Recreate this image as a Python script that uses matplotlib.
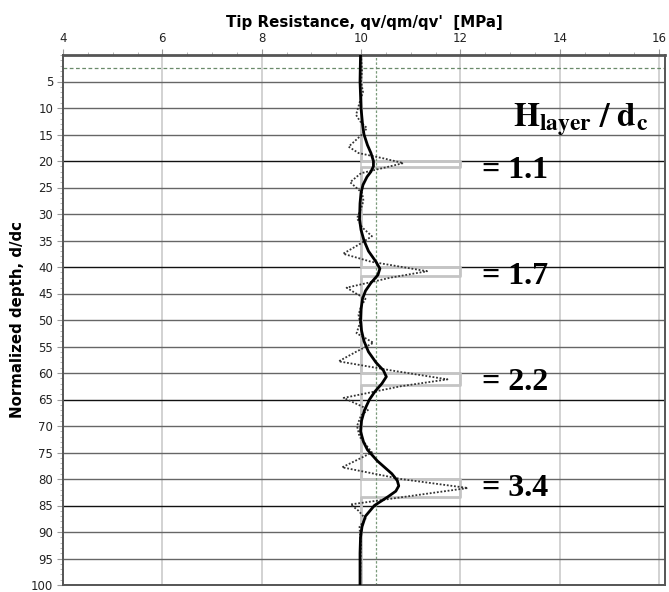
import matplotlib
matplotlib.use("Agg")
import matplotlib.pyplot as plt
from matplotlib.ticker import MultipleLocator
import numpy as np

# ---- data ----
# smoothed cone resistance (solid black)
solid_depth = [0, 5, 10, 13, 15, 17, 18.5, 20, 21, 22, 23, 24.5, 26, 28, 31, 33, 35, 37, 39,
               40.3, 41.5, 43, 44.5, 46, 48, 50, 52, 54, 56, 58, 59.5, 60.7, 62, 63.5, 65, 67,
               69, 71, 73, 74.5, 76.6, 79, 80.3, 81.3, 82.3, 83.3, 85, 87, 89, 91, 94, 100]
solid_q = [9.99, 9.98, 10.0, 10.03, 10.06, 10.13, 10.2, 10.25, 10.25, 10.2, 10.12, 10.04, 10.0,
           9.98, 9.97, 10.0, 10.06, 10.15, 10.3, 10.38, 10.34, 10.2, 10.09, 10.03, 10.0, 9.99,
           10.01, 10.06, 10.15, 10.3, 10.45, 10.51, 10.42, 10.28, 10.17, 10.07, 10.01, 9.99,
           10.05, 10.13, 10.33, 10.62, 10.73, 10.76, 10.7, 10.55, 10.27, 10.09, 10.02, 9.99,
           9.98, 9.98]

# raw/oscillating resistance (dotted)
dot_depth = [0, 3, 5, 7, 9, 11.3, 12.5, 13.8, 15, 17.3, 18.5, 19.5, 20.4, 21.2, 22.3, 24, 25,
             26, 27.5, 29, 30.8, 32.5, 34.2, 35.8, 37.5, 39, 40.8, 42, 43.9, 45, 46, 47.5, 49,
             50.5, 52.5, 54.3, 56, 57.8, 59.5, 61.2, 62.5, 64.7, 66, 66.9, 68, 70, 72, 75, 76.5,
             77.8, 80, 81.7, 83.2, 84.8, 86, 87.5, 89, 90.5, 92, 100]
dot_q = [10.0, 10.02, 10.0, 10.04, 9.97, 9.9, 9.98, 10.12, 10.02, 9.75, 9.95, 10.45, 10.85,
         10.5, 10.0, 9.78, 9.9, 10.02, 10.05, 10.0, 9.92, 10.02, 10.22, 9.95, 9.64, 10.2,
         11.33, 10.6, 9.71, 9.9, 10.09, 10.0, 9.95, 9.98, 9.91, 10.25, 9.9, 9.55, 10.6, 11.74,
         10.8, 9.65, 9.95, 10.15, 10.0, 9.92, 9.97, 10.22, 9.9, 9.62, 10.8, 12.15, 11.0, 9.79,
         9.95, 10.09, 9.97, 9.98, 10.0, 9.98]

# true layered profile (grey)
base_q = 10.0
layer_q = 12.0
layer_top = [20.0, 40.0, 60.0, 80.0]
layer_ratio = [1.1, 1.7, 2.2, 3.4]
layer_labels = ["= 1.1", "= 1.7", "= 2.2", "= 3.4"]

ref_q = 10.3          # green dotted vertical
ref_depth = 2.5       # green dashed horizontal

x_ticks = [4, 6, 8, 10, 12, 14, 16]
y_ticks = list(range(5, 101, 5))

# ---- build grey step profile from the layer table ----
prof_d = [0.0]
prof_q = [base_q]
for top, h in zip(layer_top, layer_ratio):
    prof_d += [top, top, top + h, top + h]
    prof_q += [base_q, layer_q, layer_q, base_q]
prof_d.append(100.0)
prof_q.append(base_q)

plt.rcParams['mathtext.fontset'] = 'stix'

fig = plt.figure(figsize=(6.69, 5.92), dpi=100)
ax = fig.add_axes([63/669, 1 - 585/592, (665 - 63)/669, (585 - 55)/592])

ax.set_xlim(4, 16.12)
ax.set_ylim(100, 0)

# grid
for xv in x_ticks:
    ax.axvline(xv, color='#cfcfcf', lw=1.3, zorder=0)
for yv in y_ticks:
    dark = yv in (20, 40, 65, 85)
    ax.axhline(yv, color='#111111' if dark else '#666666', lw=1.0, zorder=0)

ax.plot(prof_q, prof_d, color='#c4c4c4', lw=2.0, zorder=1)
ax.axvline(ref_q, color='#7a9a7a', lw=0.9, ls=(0, (2, 1.5)), zorder=2)
ax.axhline(ref_depth, color='#6a8a6a', lw=0.9, ls=(0, (3, 2)), zorder=2)
ax.plot(dot_q, dot_depth, color='#333333', lw=1.3, ls=(0, (1, 1)), zorder=3)
ax.plot(solid_q, solid_depth, color='black', lw=2.0, zorder=4)

# ticks
ax.xaxis.set_ticks_position('top')
ax.xaxis.set_label_position('top')
ax.set_xticks(x_ticks)
ax.set_yticks(y_ticks)
ax.xaxis.set_minor_locator(MultipleLocator(0.5))
ax.yaxis.set_minor_locator(MultipleLocator(1))
ax.tick_params(which='major', length=4, width=0.8, color='#999999', labelsize=8.5,
               labelcolor='#222222', pad=3)
ax.tick_params(which='minor', length=2.5, width=0.6, color='#aaaaaa')
for s in ax.spines.values():
    s.set_color('#555555')
    s.set_linewidth(1.4)
ax.spines['top'].set_linewidth(2.0)

ax.set_xlabel("Tip Resistance, qv/qm/qv'  [MPa]", fontsize=10.8, fontweight='bold', labelpad=4)
ax.set_ylabel("Normalized depth, d/dc", fontsize=10.8, fontweight='bold', labelpad=4)

# annotations
ax.text(13.05, 13.5, r'$\mathbf{H}_{\mathbf{layer}}\mathbf{\ /\ d}_{\mathbf{c}}$',
        fontsize=24, va='baseline', ha='left', color='black')
for top, lab in zip(layer_top, layer_labels):
    ax.text(12.44, top + 3.2, lab, fontsize=23, fontweight='bold',
            family='Liberation Serif', va='baseline', ha='left', color='black')

fig.savefig('out.png', dpi=100)
